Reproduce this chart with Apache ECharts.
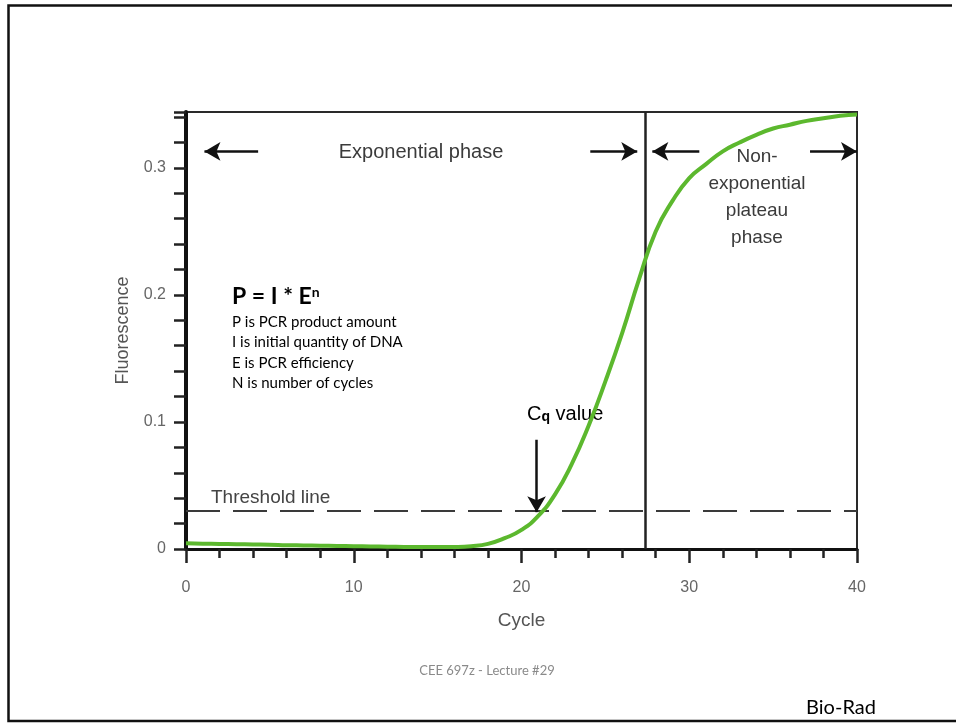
<!DOCTYPE html>
<html>
<head>
<meta charset="utf-8">
<script src="https://cdn.jsdelivr.net/npm/echarts@6/dist/echarts.min.js"></script>
<style>
  html, body { margin: 0; padding: 0; background: #fff; }
  #chart { width: 956px; height: 723px; }
</style>
</head>
<body>
<div id="chart"></div>
<script>
// qPCR amplification curve (Bio-Rad)
const cycles = [0, 1, 2, 3, 4, 5, 6, 7, 8, 9, 10, 11, 12, 13, 14, 15, 16, 17, 18, 19, 20,
  21, 22, 23, 24, 25, 26, 27, 28, 29, 30, 31, 32, 33, 34, 35, 36, 37, 38, 39, 40];
const fluorescence = [0.0045, 0.0042, 0.004, 0.0038, 0.0036, 0.0034, 0.003, 0.0028, 0.0026, 0.0024, 0.0022,
  0.002, 0.0018, 0.0016, 0.0015, 0.0015, 0.0016, 0.0022, 0.004, 0.0085, 0.015,
  0.026, 0.043, 0.067, 0.097, 0.132, 0.170, 0.212, 0.250, 0.274, 0.292,
  0.303, 0.313, 0.320, 0.326, 0.331, 0.334, 0.337, 0.339, 0.341, 0.342];
const xLabels = [0, 10, 20, 30, 40];
const yLabels = [0, 0.1, 0.2, 0.3];
const thresholdValue = 0.027;
const plateauStart = 27.4;
// arrows: [from, to] in cycle / fluorescence
const phaseArrows = [
  [[4.3, 0.313], [1.1, 0.313]],
  [[24.1, 0.313], [26.9, 0.313]],
  [[30.6, 0.313], [27.8, 0.313]],
  [[37.2, 0.313], [40, 0.313]]
];
const cqArrow = [[20.9, 0.086], [20.9, 0.029]];

const chart = echarts.init(document.getElementById('chart'));
const axisFont = 'Liberation Sans, Arial, sans-serif';
const slideFont = 'Lato, Carlito, sans-serif';

function arrowLines(list) {
  return list.map(a => [{ coord: a[0] }, { coord: a[1] }]);
}

const option = {
  animation: false,
  grid: {
    left: 186,
    right: 99,
    top: 112,
    bottom: 174,
    show: true,
    borderColor: '#2a2a2a',
    borderWidth: 2
  },
  xAxis: {
    type: 'value',
    min: 0,
    max: 40,
    interval: 10,
    name: 'Cycle',
    nameLocation: 'middle',
    nameGap: 62,
    nameMoveOverlap: false,
    nameTextStyle: { fontFamily: axisFont, fontSize: 19, color: '#555' },
    axisLine: { lineStyle: { color: '#111', width: 3 } },
    axisTick: { length: 14, lineStyle: { color: '#222', width: 2.5 } },
    minorTick: { show: true, splitNumber: 5, length: 9, lineStyle: { color: '#222', width: 2.5 } },
    splitLine: { show: false },
    axisLabel: {
      margin: 31,
      fontFamily: axisFont,
      fontSize: 16,
      color: '#666',
      formatter: v => xLabels.includes(v) ? String(v) : ''
    }
  },
  yAxis: {
    type: 'value',
    min: 0,
    max: 0.344,
    interval: 0.02,
    name: 'Fluorescence',
    nameLocation: 'middle',
    nameRotate: 90,
    nameGap: 54,
    nameMoveOverlap: false,
    nameTextStyle: { fontFamily: axisFont, fontSize: 18, color: '#555' },
    axisLine: { lineStyle: { color: '#111', width: 4 } },
    axisTick: { length: 12, lineStyle: { color: '#222', width: 2.5 } },
    splitLine: { show: false },
    axisLabel: {
      margin: 20,
      fontFamily: axisFont,
      fontSize: 16,
      color: '#666',
      formatter: v => {
        const r = Math.round(v * 100) / 100;
        return yLabels.includes(r) ? String(r) : '';
      }
    }
  },
  series: [
    {
      name: 'Fluorescence',
      type: 'line',
      data: cycles.map((c, i) => [c, fluorescence[i]]),
      smooth: true,
      showSymbol: false,
      lineStyle: { color: '#5cb82e', width: 4 },
      z: 5,
      markLine: {
        silent: true,
        symbol: 'none',
        label: { show: false },
        lineStyle: { color: '#3a3a3a', width: 2, type: [34, 13] },
        data: [{ yAxis: thresholdValue }]
      }
    },
    {
      name: 'plateau',
      type: 'line',
      data: [],
      markLine: {
        silent: true,
        symbol: 'none',
        label: { show: false },
        lineStyle: { color: '#222', width: 2.5, type: 'solid' },
        data: [{ xAxis: plateauStart }]
      }
    },
    {
      name: 'arrows',
      type: 'line',
      data: [],
      z: 6,
      markLine: {
        silent: true,
        symbol: ['none', 'arrow'],
        symbolSize: [14, 16],
        label: { show: false },
        lineStyle: { color: '#111', width: 2.5, type: 'solid' },
        data: arrowLines(phaseArrows.concat([cqArrow]))
      }
    }
  ],
  graphic: [
    {
      type: 'polyline',
      shape: { points: [[952, 5.5], [8.5, 5.5], [8.5, 721], [960, 721]] },
      style: { fill: 'none', stroke: '#111', lineWidth: 2.5 },
      silent: true
    },
    {
      type: 'text',
      style: { text: 'Exponential phase', x: 421, y: 152, align: 'center', verticalAlign: 'middle',
        font: '20px ' + axisFont, fill: '#3b3b3b' }
    },
    {
      type: 'text',
      style: { text: 'Non-\nexponential\nplateau\nphase', x: 757, y: 143, align: 'center', verticalAlign: 'top',
        font: '19px ' + axisFont, fill: '#3b3b3b', lineHeight: 27 }
    },
    {
      type: 'text',
      style: { text: 'Threshold line', x: 211, y: 498, align: 'left', verticalAlign: 'middle',
        font: '19px ' + axisFont, fill: '#444' }
    },
    {
      type: 'text',
      style: {
        text: '{c|C}{q|q}{v| value}', x: 527, y: 414, align: 'left', verticalAlign: 'middle',
        rich: {
          c: { fontFamily: axisFont, fontSize: 20, color: '#3b3b3b' },
          q: { fontFamily: axisFont, fontSize: 14, fontWeight: 'bold', color: '#3b3b3b', verticalAlign: 'bottom' },
          v: { fontFamily: axisFont, fontSize: 20, color: '#3b3b3b' }
        }
      }
    },
    {
      type: 'text',
      style: {
        text: '{b|P = I * E}{s|n}', x: 232, y: 297, align: 'left', verticalAlign: 'middle',
        rich: {
          b: { fontFamily: slideFont, fontSize: 23, fontWeight: 'bold', color: '#000' },
          s: { fontFamily: slideFont, fontSize: 14, fontWeight: 'bold', color: '#000', verticalAlign: 'top' }
        }
      }
    },
    {
      type: 'text',
      style: {
        text: 'P is PCR product amount\nI is initial quantity of DNA\nE is PCR efficiency\nN is number of cycles',
        x: 232, y: 312, align: 'left', verticalAlign: 'top',
        font: '15px ' + slideFont, fill: '#000', lineHeight: 20.3
      }
    },
    {
      type: 'text',
      style: { text: 'CEE 697z - Lecture #29', x: 487, y: 671, align: 'center', verticalAlign: 'middle',
        font: '13px ' + slideFont, fill: '#8a8a8a' }
    },
    {
      type: 'text',
      style: { text: 'Bio-Rad', x: 841, y: 708, align: 'center', verticalAlign: 'middle',
        font: '20px ' + slideFont, fill: '#000' }
    }
  ]
};

chart.setOption(option);
</script>
</body>
</html>
